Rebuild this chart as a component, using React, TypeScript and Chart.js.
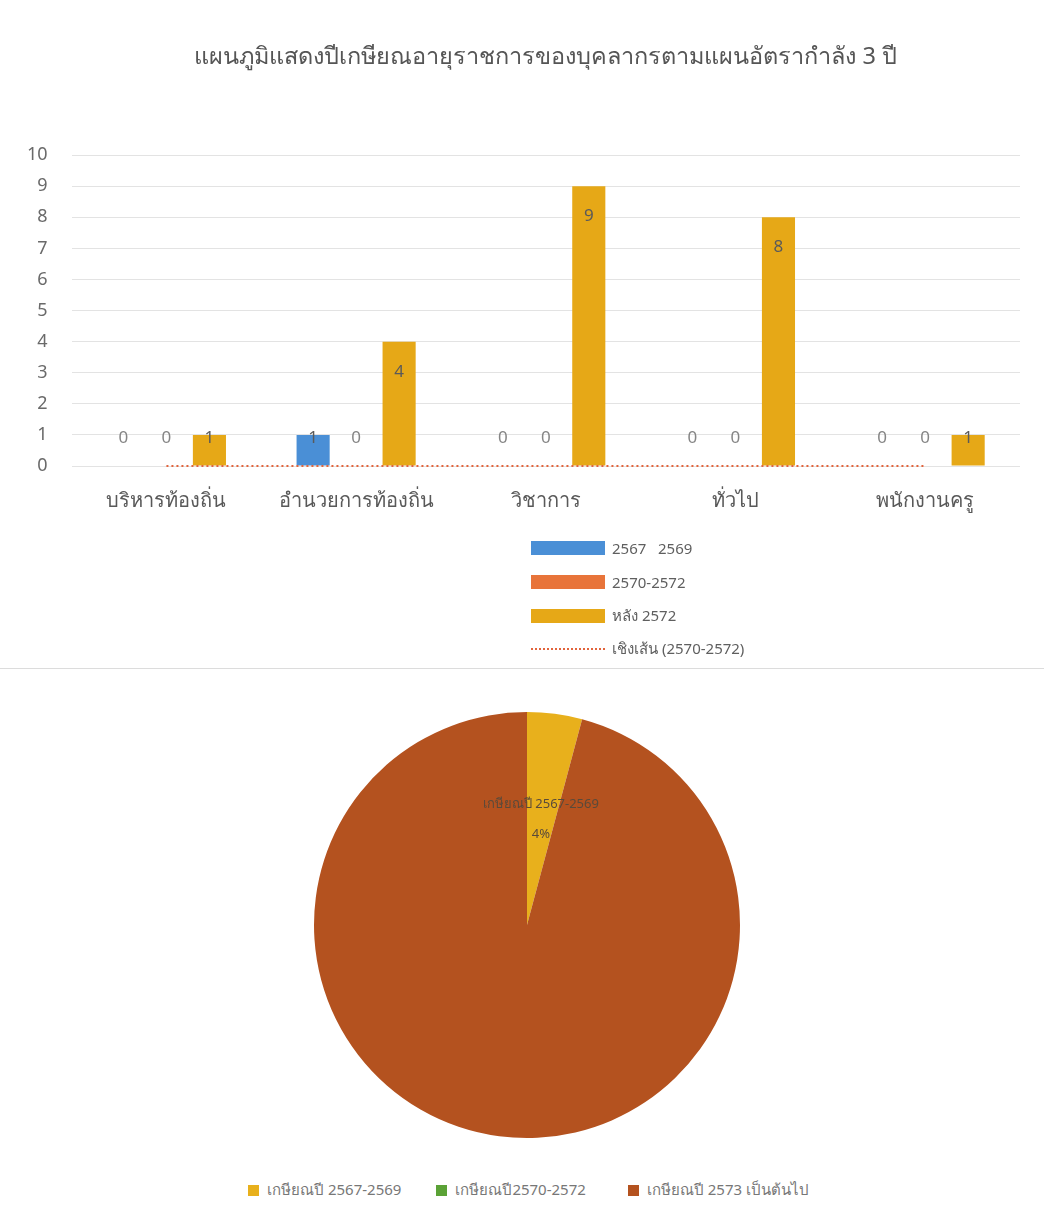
import React, { useEffect, useRef } from "react";
import { Chart, registerables } from "chart.js";

Chart.register(...registerables);

const title = "แผนภูมิแสดงปีเกษียณอายุราชการของบุคลากรตามแผนอัตรากำลัง 3 ปี";
const categories = ["บริหารท้องถิ่น", "อำนวยการท้องถิ่น", "วิชาการ", "ทั่วไป", "พนักงานครู"];
const seriesNames = ["2567   2569", "2570-2572", "หลัง 2572"];
const series2567 = [0, 1, 0, 0, 0];
const series2570 = [0, 0, 0, 0, 0];
const seriesAfter = [1, 4, 9, 8, 1];
const trendName = "เชิงเส้น (2570-2572)";
const yTicks = [0, 1, 2, 3, 4, 5, 6, 7, 8, 9, 10];

const pieLabels = ["เกษียณปี 2567-2569", "เกษียณปี2570-2572", "เกษียณปี 2573 เป็นต้นไป"];
const pieValues = [1, 0, 23];
const pieLabelShown = [true, false, false];

const barColors = ["#4A8FD6", "#E8743A", "#E6A817"];
const trendColor = "#E2643C";
const pieColors = ["#E8B01C", "#5BA236", "#B4521F"];

const FONT = "Tahoma, 'Noto Sans', 'DejaVu Sans', sans-serif";

function linearTrend(vals: number[]): number[] {
  const n = vals.length;
  const xs = vals.map((_, i) => i + 1);
  const mx = xs.reduce((a, b) => a + b, 0) / n;
  const my = vals.reduce((a, b) => a + b, 0) / n;
  let num = 0, den = 0;
  xs.forEach((x, i) => { num += (x - mx) * (vals[i] - my); den += (x - mx) * (x - mx); });
  const slope = den ? num / den : 0;
  return xs.map((x) => my + slope * (x - mx));
}

const barLabelPlugin = {
  id: "barLabels",
  afterDatasetsDraw(chart: any) {
    const ctx = chart.ctx;
    const base = chart.scales.y.getPixelForValue(0);
    ctx.save();
    ctx.font = `17px ${FONT}`;
    ctx.textAlign = "center";
    ctx.textBaseline = "middle";
    chart.data.datasets.forEach((ds: any, di: number) => {
      if (ds.type === "line") return;
      const meta = chart.getDatasetMeta(di);
      meta.data.forEach((bar: any, i: number) => {
        const v = ds.data[i];
        const y = Math.min(bar.y + 30, base - 28);
        ctx.fillStyle = v > 0 ? "#5a5a5a" : "#858585";
        ctx.fillText(String(v), bar.x, y);
      });
    });
    ctx.restore();
  },
};

const pieLabelPlugin = {
  id: "pieLabels",
  afterDatasetsDraw(chart: any) {
    const ctx = chart.ctx;
    const ds = chart.data.datasets[0];
    const total = ds.data.reduce((a: number, b: number) => a + b, 0);
    const meta = chart.getDatasetMeta(0);
    ctx.save();
    ctx.textAlign = "center";
    ctx.textBaseline = "middle";
    ctx.fillStyle = "#5a4a3a";
    meta.data.forEach((arc: any, i: number) => {
      if (!pieLabelShown[i] || !ds.data[i]) return;
      const p = arc.getCenterPoint();
      ctx.font = `13px ${FONT}`;
      ctx.fillText(chart.data.labels[i], p.x, p.y - 15);
      ctx.fillText(Math.round((ds.data[i] / total) * 100) + "%", p.x, p.y + 15);
    });
    ctx.restore();
  },
};

function BarChart() {
  const ref = useRef<HTMLCanvasElement>(null);
  useEffect(() => {
    const chart = new Chart(ref.current as HTMLCanvasElement, {
      type: "bar",
      data: {
        labels: categories,
        datasets: [
          { label: seriesNames[0], data: series2567, backgroundColor: barColors[0], order: 2 },
          { label: seriesNames[1], data: series2570, backgroundColor: barColors[1], order: 2 },
          { label: seriesNames[2], data: seriesAfter, backgroundColor: barColors[2], order: 2 },
          {
            type: "line",
            label: trendName,
            data: linearTrend(series2570),
            borderColor: trendColor,
            borderWidth: 2,
            borderDash: [2, 3],
            pointRadius: 0,
            fill: false,
            clip: false,
            order: 1,
          } as any,
        ],
      },
      options: {
        animation: false,
        responsive: false,
        maintainAspectRatio: false,
        layout: { padding: { left: 3, right: 24, top: 0, bottom: 18 } },
        datasets: { bar: { categoryPercentage: 0.68, barPercentage: 0.77 } } as any,
        plugins: {
          legend: { display: false },
          tooltip: { enabled: false },
          title: {
            display: true,
            fullSize: false,
            text: title,
            color: "#555555",
            font: { family: FONT, size: 23.5, weight: "normal" },
            padding: { top: 43, bottom: 84 },
          },
        },
        scales: {
          x: {
            grid: { display: false, drawTicks: false },
            border: { display: false },
            ticks: { color: "#595959", font: { family: FONT, size: 20 }, padding: 23 },
          },
          y: {
            min: 0,
            max: 10,
            afterBuildTicks: (axis: any) => { axis.ticks = yTicks.map((v) => ({ value: v })); },
            grid: { color: "#e3e3e3", drawTicks: false, lineWidth: 1 },
            border: { display: false },
            ticks: { color: "#6a6a6a", font: { family: FONT, size: 18 }, padding: 24 },
          },
        },
      },
      plugins: [barLabelPlugin],
    });
    return () => chart.destroy();
  }, []);
  return <canvas ref={ref} width={1044} height={554} style={{ position: "absolute", left: 0, top: 0 }} />;
}

function PieChart() {
  const ref = useRef<HTMLCanvasElement>(null);
  useEffect(() => {
    const chart = new Chart(ref.current as HTMLCanvasElement, {
      type: "pie",
      data: {
        labels: pieLabels,
        datasets: [{ data: pieValues, backgroundColor: pieColors, borderWidth: 0 }],
      },
      options: {
        animation: false,
        responsive: false,
        maintainAspectRatio: false,
        layout: { padding: { left: 10, right: 0, top: 12, bottom: 12 } },
        plugins: { legend: { display: false }, tooltip: { enabled: false } },
      },
      plugins: [pieLabelPlugin],
    });
    return () => chart.destroy();
  }, []);
  return <canvas ref={ref} width={1044} height={450} style={{ position: "absolute", left: 0, top: 700 }} />;
}

const legendText: React.CSSProperties = { fontFamily: FONT, fontSize: 15, color: "#5f5f5f", whiteSpace: "pre" };
const pieLegendGaps = [0, 35, 42];

export default function App() {
  return (
    <div style={{ position: "absolute", left: 0, top: 0, width: 1044, height: 1223, background: "#fff", overflow: "hidden" }}>
      <BarChart />
      <div style={{ position: "absolute", left: 531, top: 531 }}>
        {seriesNames.map((n, i) => (
          <div key={n} style={{ display: "flex", alignItems: "center", height: 34 }}>
            <div style={{ width: 74, height: 14, background: barColors[i], marginRight: 7 }} />
            <span style={legendText}>{n}</span>
          </div>
        ))}
        <div style={{ display: "flex", alignItems: "center", height: 32 }}>
          <div style={{ width: 74, height: 0, borderTop: `2px dotted ${trendColor}`, marginRight: 7 }} />
          <span style={legendText}>{trendName}</span>
        </div>
      </div>
      <div style={{ position: "absolute", left: 0, top: 668, width: 1044, height: 0, borderTop: "1px solid #dcdcdc" }} />
      <PieChart />
      <div style={{ position: "absolute", left: 248, top: 1178, display: "flex" }}>
        {pieLabels.map((n, i) => (
          <div key={n} style={{ display: "flex", alignItems: "center", marginLeft: pieLegendGaps[i] }}>
            <div style={{ width: 11, height: 11, background: pieColors[i], marginRight: 8 }} />
            <span style={{ fontFamily: FONT, fontSize: 15, color: "#777777" }}>{n}</span>
          </div>
        ))}
      </div>
    </div>
  );
}
